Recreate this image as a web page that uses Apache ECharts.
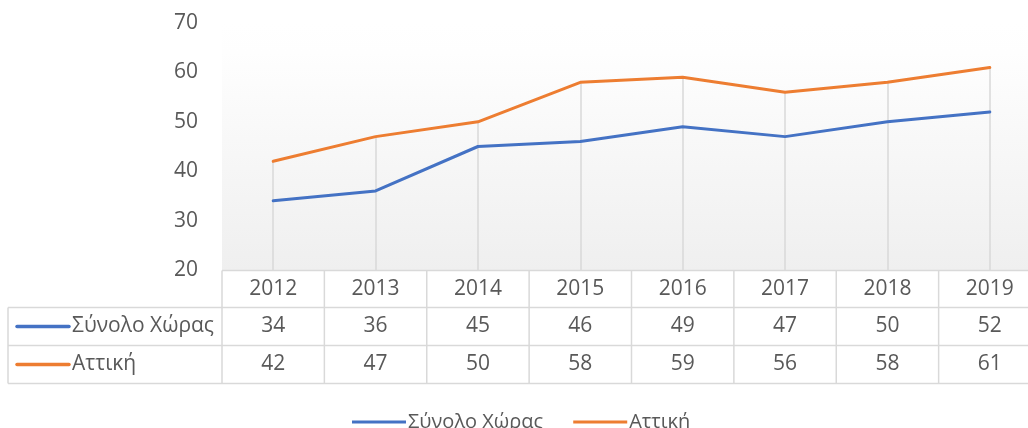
<!DOCTYPE html>
<html>
<head>
<meta charset="utf-8">
<script src="https://cdn.jsdelivr.net/npm/echarts@6/dist/echarts.min.js"></script>
<style>
  html, body { margin: 0; padding: 0; background: #fff; }
  #chart { width: 1028px; height: 428px; }
</style>
</head>
<body>
<div id="chart"></div>
<script>
const years = ["2012", "2013", "2014", "2015", "2016", "2017", "2018", "2019"];
const seriesNames = ["Σύνολο Χώρας", "Αττική"];
const totalCountry = [34, 36, 45, 46, 49, 47, 50, 52];
const attica = [42, 47, 50, 58, 59, 56, 58, 61];
const yTicks = [20, 30, 40, 50, 60, 70];

const COLORS = ["#4472c4", "#ed7d31"];
const FONT = "Open Sans";
const TEXT_COLOR = "#595959";
const LINE_COLOR = "#d9d9d9";

// drop lines from highest point down to the axis
const dropLines = years.map((year, i) => [
  { coord: [i, Math.max(totalCountry[i], attica[i])] },
  { coord: [i, yTicks[0]] }
]);

const chart = echarts.init(document.getElementById("chart"), null, { renderer: "canvas" });

chart.setOption({
  animation: false,
  color: COLORS,
  grid: {
    left: 222, top: 23, width: 819, height: 247,
    outerBoundsMode: "none",
    show: true,
    borderWidth: 0,
    backgroundColor: {
      type: "linear", x: 0, y: 0, x2: 0, y2: 1,
      colorStops: [
        { offset: 0, color: "#ffffff" },
        { offset: 0.12, color: "#fefefe" },
        { offset: 1, color: "#efefef" }
      ]
    }
  },
  legend: {
    left: 347, top: 407,
    icon: "rect",
    itemWidth: 54, itemHeight: 3,
    itemGap: 30,
    textStyle: { color: TEXT_COLOR, fontFamily: FONT, fontSize: 20, padding: [0, 0, 0, -3] },
    data: seriesNames
  },
  xAxis: {
    type: "category",
    data: years,
    axisLine: { show: false },
    axisTick: { show: false },
    axisLabel: { show: false },
    splitLine: { show: false }
  },
  yAxis: {
    type: "value",
    min: 20, max: 70, interval: 10,
    axisLine: { show: false },
    axisTick: { show: false },
    splitLine: { show: false },
    axisLabel: { color: TEXT_COLOR, fontFamily: FONT, fontSize: 21, margin: 24 }
  },
  series: [
    {
      name: seriesNames[0], type: "line", data: totalCountry,
      symbol: "none", lineStyle: { width: 3, color: COLORS[0], cap: "round", join: "round" },
      z: 3,
      markLine: {
        silent: true, symbol: "none", label: { show: false },
        lineStyle: { color: LINE_COLOR, width: 1.5, type: "solid" },
        data: dropLines, z: 1
      }
    },
    {
      name: seriesNames[1], type: "line", data: attica,
      symbol: "none", lineStyle: { width: 3, color: COLORS[1], cap: "round", join: "round" },
      z: 3
    }
  ]
});

// data table under the plot
function drawTable() {
  const band = chart.convertToPixel({ xAxisIndex: 0 }, 1) - chart.convertToPixel({ xAxisIndex: 0 }, 0);
  const centers = years.map((y, i) => chart.convertToPixel({ xAxisIndex: 0 }, i));
  const plotLeft = centers[0] - band / 2;
  const plotRight = centers[centers.length - 1] + band / 2;
  const tableLeft = 8;
  const rowsY = [270.5, 307.5, 345.5, 383.5];
  const lineStyle = { stroke: LINE_COLOR, lineWidth: 1.5 };
  const textStyle = (x, y, text, align) => ({
    type: "text", x, y,
    style: { text, fill: TEXT_COLOR, font: `21px "${FONT}"`, align: align || "center", verticalAlign: "middle" }
  });
  const els = [];

  els.push({ type: "line", shape: { x1: plotLeft, y1: rowsY[0], x2: plotRight, y2: rowsY[0] }, style: lineStyle });
  for (let r = 1; r < rowsY.length; r++) {
    els.push({ type: "line", shape: { x1: tableLeft, y1: rowsY[r], x2: plotRight, y2: rowsY[r] }, style: lineStyle });
  }
  els.push({ type: "line", shape: { x1: tableLeft, y1: rowsY[1], x2: tableLeft, y2: rowsY[3] }, style: lineStyle });
  for (let i = 0; i <= years.length; i++) {
    const x = plotLeft + i * band;
    els.push({ type: "line", shape: { x1: x, y1: rowsY[0], x2: x, y2: rowsY[3] }, style: lineStyle });
  }

  years.forEach((year, i) => {
    els.push(textStyle(centers[i], (rowsY[0] + rowsY[1]) / 2, year));
    els.push(textStyle(centers[i], (rowsY[1] + rowsY[2]) / 2, String(totalCountry[i])));
    els.push(textStyle(centers[i], (rowsY[2] + rowsY[3]) / 2, String(attica[i])));
  });

  [totalCountry, attica].forEach((row, r) => {
    const y = (rowsY[r + 1] + rowsY[r + 2]) / 2;
    els.push({ type: "line", shape: { x1: 17, y1: y, x2: 69, y2: y }, style: { stroke: COLORS[r], lineWidth: 3.5, lineCap: "round" } });
    els.push(textStyle(72, y, seriesNames[r], "left"));
  });

  chart.setOption({ graphic: { elements: els } });
}

drawTable();
</script>
</body>
</html>
